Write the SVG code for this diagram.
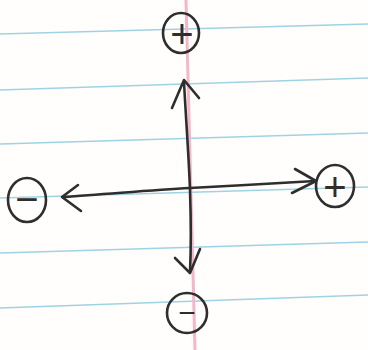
<svg xmlns="http://www.w3.org/2000/svg" width="368" height="350" viewBox="0 0 368 350">
<style>
.rule{stroke:#9fd3e3;stroke-width:1.6;fill:none}
.margin{stroke:#f4b6c8;stroke-width:3;fill:none}
.ink{stroke:#2e2e2e;stroke-width:2.6;fill:none;stroke-linecap:round;stroke-linejoin:round}
.lbl{font-family:"Liberation Sans",Arial,sans-serif;fill:#2e2e2e;text-anchor:middle}
</style>
<rect width="368" height="350" fill="#fffefc"/>
<g id="paper">
<line class="rule" x1="0" y1="34" x2="368" y2="24"/>
<line class="rule" x1="0" y1="90" x2="368" y2="78"/>
<line class="rule" x1="0" y1="144" x2="368" y2="133"/>
<line class="rule" x1="0" y1="198" x2="368" y2="187"/>
<line class="rule" x1="0" y1="253" x2="368" y2="242"/>
<line class="rule" x1="0" y1="308" x2="368" y2="295"/>
<line class="margin" x1="186" y1="0" x2="195" y2="350"/>
</g>
<g id="connectors">
<path class="ink" d="M184,82 C186,120 189,160 190,190 C191,220 191,250 190,272"/>
<path class="ink" d="M172,108 L184,80 L199,98"/>
<path class="ink" d="M175,258 L190,273 L200,249"/>
<path class="ink" d="M63,197 C110,194 150,190 190,188 C230,186 280,183 315,181"/>
<path class="ink" d="M78,185 L62,197 L81,211"/>
<path class="ink" d="M295,169 L316,181 L292,193"/>
</g>
<g id="node-top">
<ellipse class="ink" cx="181" cy="33" rx="18" ry="20"/>
<text class="lbl" x="182" y="48" font-size="40">+</text>
</g>
<g id="node-right">
<ellipse class="ink" cx="335" cy="186" rx="19" ry="21"/>
<text class="lbl" x="335" y="201" font-size="40">+</text>
</g>
<g id="node-left">
<ellipse class="ink" cx="27" cy="200" rx="19" ry="22"/>
<text class="lbl" x="27" y="213" font-size="40">−</text>
</g>
<g id="node-bottom">
<ellipse class="ink" cx="187" cy="313" rx="20" ry="20"/>
<text class="lbl" x="187" y="323" font-size="30">−</text>
</g>
</svg>
